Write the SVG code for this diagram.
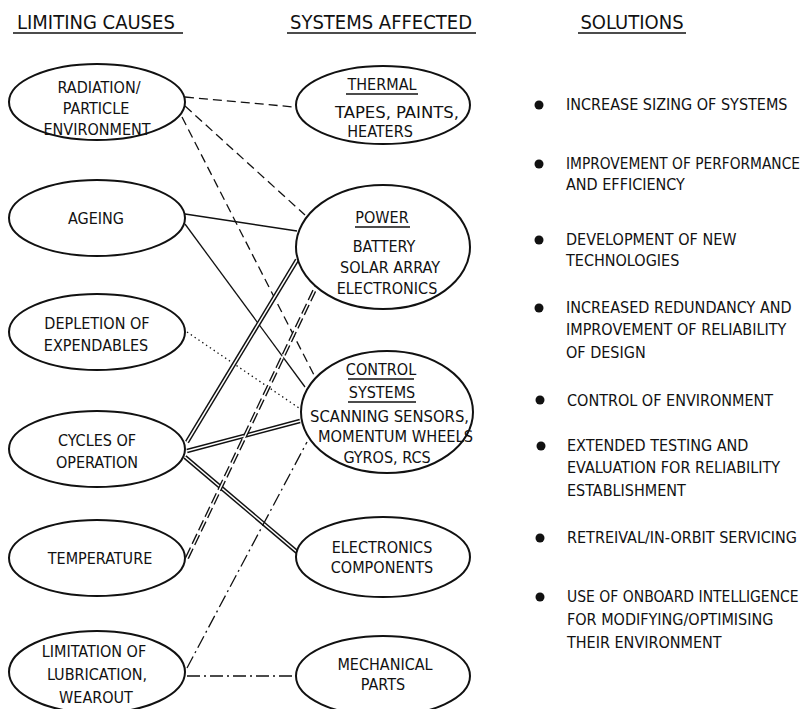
<svg xmlns="http://www.w3.org/2000/svg" width="806" height="709" viewBox="0 0 806 709">
  <style>
    text { font-family: "DejaVu Sans Condensed", "DejaVu Sans", sans-serif; font-stretch: condensed; fill: #111; font-size: 16px; }
    .head { font-size: 20px; }
    .mid { text-anchor: middle; }
    .node ellipse { fill: #fff; stroke: #111; stroke-width: 2; }
    .ul { stroke: #111; stroke-width: 1.6; }
    .c { fill: none; stroke: #111; stroke-width: 1.3; }
    .dash { stroke-dasharray: 9 5; }
    .dot { stroke-dasharray: 1.4 3.2; }
    .dd { stroke-dasharray: 13 4 2 4; }
    .dbl-o { fill: none; stroke: #111; stroke-width: 4.4; }
    .dbl-i { fill: none; stroke: #fff; stroke-width: 1.5; }
    .ddash-o { fill: none; stroke: #111; stroke-width: 4.2; stroke-dasharray: 11 4; }
    .bullet { fill: #111; }
  </style>

  <!-- column headings -->
  <g id="headings">
    <text class="head" x="17" y="29">LIMITING CAUSES</text>
    <line class="ul" x1="13" y1="33" x2="183" y2="33"/>
    <text class="head mid" x="381" y="29">SYSTEMS AFFECTED</text>
    <line class="ul" x1="287" y1="33" x2="476" y2="33"/>
    <text class="head mid" x="632" y="29">SOLUTIONS</text>
    <line class="ul" x1="578" y1="33" x2="686" y2="33"/>
  </g>

  <!-- connectors -->
  <g id="connectors">
    <line class="c dash" x1="185" y1="97" x2="294" y2="107"/>
    <line class="c dash" x1="185" y1="106" x2="305" y2="215"/>
    <line class="c dash" x1="182" y1="117" x2="315" y2="377"/>
    <line class="c" x1="185" y1="214" x2="297" y2="231"/>
    <line class="c" x1="185" y1="224" x2="305" y2="387"/>
    <line class="c dot" x1="187" y1="332" x2="299" y2="408"/>
    <line class="dbl-o" x1="187" y1="442" x2="297" y2="260"/>
    <line class="dbl-i" x1="187" y1="442" x2="297" y2="260"/>
    <line class="dbl-o" x1="187" y1="451" x2="300" y2="421"/>
    <line class="dbl-i" x1="187" y1="451" x2="300" y2="421"/>
    <line class="dbl-o" x1="185" y1="457" x2="297" y2="552"/>
    <line class="dbl-i" x1="185" y1="457" x2="297" y2="552"/>
    <line class="ddash-o" x1="187" y1="558" x2="317" y2="285"/>
    <line class="dbl-i" x1="187" y1="558" x2="317" y2="285"/>
    <line class="c dd" x1="187" y1="668" x2="307" y2="442"/>
    <line class="c dd" x1="187" y1="676" x2="298" y2="676"/>
  </g>

  <!-- limiting causes -->
  <g id="radiation" class="node">
    <ellipse cx="97" cy="102" rx="88" ry="38"/>
    <text class="mid" x="99" y="93">RADIATION/</text>
    <text class="mid" x="96" y="114">PARTICLE</text>
    <text class="mid" x="97" y="135">ENVIRONMENT</text>
  </g>
  <g id="ageing" class="node">
    <ellipse cx="97" cy="218" rx="88" ry="38"/>
    <text class="mid" x="96" y="224">AGEING</text>
  </g>
  <g id="depletion" class="node">
    <ellipse cx="97" cy="332" rx="88" ry="38"/>
    <text class="mid" x="97" y="329">DEPLETION OF</text>
    <text class="mid" x="96" y="351">EXPENDABLES</text>
  </g>
  <g id="cycles" class="node">
    <ellipse cx="97" cy="449" rx="88" ry="38"/>
    <text class="mid" x="97" y="446">CYCLES OF</text>
    <text class="mid" x="97" y="468">OPERATION</text>
  </g>
  <g id="temperature" class="node">
    <ellipse cx="97" cy="558" rx="88" ry="38"/>
    <text class="mid" x="100" y="564">TEMPERATURE</text>
  </g>
  <g id="lubrication" class="node">
    <ellipse cx="97" cy="672" rx="88" ry="41"/>
    <text class="mid" x="94" y="657">LIMITATION OF</text>
    <text class="mid" x="97" y="680">LUBRICATION,</text>
    <text class="mid" x="96" y="703">WEAROUT</text>
  </g>

  <!-- systems affected -->
  <g id="thermal" class="node">
    <ellipse cx="383" cy="105" rx="87" ry="39"/>
    <text class="mid" x="382" y="90">THERMAL</text>
    <line class="ul" x1="346" y1="94" x2="418" y2="94"/>
    <text x="335" y="118" textLength="124" lengthAdjust="spacingAndGlyphs">TAPES, PAINTS,</text>
    <text class="mid" x="380" y="137">HEATERS</text>
  </g>
  <g id="power" class="node">
    <ellipse cx="383" cy="247" rx="87" ry="62"/>
    <text class="mid" x="382" y="223">POWER</text>
    <line class="ul" x1="355" y1="227" x2="410" y2="227"/>
    <text class="mid" x="384" y="252">BATTERY</text>
    <text class="mid" x="390" y="273">SOLAR ARRAY</text>
    <text class="mid" x="387" y="294">ELECTRONICS</text>
  </g>
  <g id="control" class="node">
    <ellipse cx="387" cy="412" rx="86" ry="61"/>
    <text class="mid" x="381" y="375">CONTROL</text>
    <line class="ul" x1="348" y1="379" x2="414" y2="379"/>
    <text class="mid" x="382" y="398">SYSTEMS</text>
    <line class="ul" x1="348" y1="402" x2="416" y2="402"/>
    <text x="310" y="422" textLength="159" lengthAdjust="spacingAndGlyphs">SCANNING SENSORS,</text>
    <text x="318" y="442" textLength="155" lengthAdjust="spacingAndGlyphs">MOMENTUM WHEELS</text>
    <text class="mid" x="387" y="463">GYROS, RCS</text>
  </g>
  <g id="electronics" class="node">
    <ellipse cx="383" cy="557" rx="87" ry="40"/>
    <text class="mid" x="382" y="553">ELECTRONICS</text>
    <text class="mid" x="382" y="573">COMPONENTS</text>
  </g>
  <g id="mechanical" class="node">
    <ellipse cx="383" cy="676" rx="87" ry="40"/>
    <text class="mid" x="385" y="670">MECHANICAL</text>
    <text class="mid" x="383" y="690">PARTS</text>
  </g>

  <!-- solutions -->
  <g id="solutions">
    <circle class="bullet" cx="539" cy="105" r="4.5"/>
    <text x="566" y="110">INCREASE SIZING OF SYSTEMS</text>
    <circle class="bullet" cx="539" cy="164" r="4.5"/>
    <text x="566" y="169" style="font-size:15.3px">IMPROVEMENT OF PERFORMANCE</text>
    <text x="566" y="190">AND EFFICIENCY</text>
    <circle class="bullet" cx="539" cy="240" r="4.5"/>
    <text x="566" y="245">DEVELOPMENT OF NEW</text>
    <text x="566" y="266">TECHNOLOGIES</text>
    <circle class="bullet" cx="539" cy="308" r="4.5"/>
    <text x="566" y="313">INCREASED REDUNDANCY AND</text>
    <text x="566" y="335">IMPROVEMENT OF RELIABILITY</text>
    <text x="566" y="358">OF DESIGN</text>
    <circle class="bullet" cx="540" cy="400" r="4.5"/>
    <text x="567" y="406">CONTROL OF ENVIRONMENT</text>
    <circle class="bullet" cx="541" cy="446" r="4.5"/>
    <text x="567" y="451">EXTENDED TESTING AND</text>
    <text x="567" y="473">EVALUATION FOR RELIABILITY</text>
    <text x="567" y="496">ESTABLISHMENT</text>
    <circle class="bullet" cx="540" cy="538" r="4.5"/>
    <text x="567" y="543">RETREIVAL/IN-ORBIT SERVICING</text>
    <circle class="bullet" cx="540" cy="597" r="4.5"/>
    <text x="567" y="602" style="font-size:15.5px">USE OF ONBOARD INTELLIGENCE</text>
    <text x="567" y="625">FOR MODIFYING/OPTIMISING</text>
    <text x="567" y="648">THEIR ENVIRONMENT</text>
  </g>
</svg>
